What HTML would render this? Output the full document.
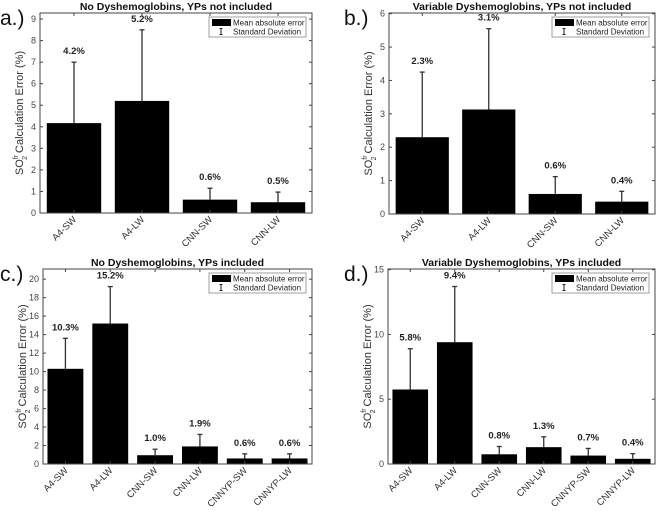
<!DOCTYPE html>
<html><head><meta charset="utf-8"><style>
body{margin:0;background:#fff;width:657px;height:506px;overflow:hidden}
svg{font-family:"Liberation Sans",sans-serif}
</style></head><body>
<svg id="fig" width="657" height="506"></svg>
<script>
const catsA=["A4-SW","A4-LW","CNN-SW","CNN-LW"];
const catsC=["A4-SW","A4-LW","CNN-SW","CNN-LW","CNNYP-SW","CNNYP-LW"];
const valsA=[4.17,5.2,0.62,0.5];
const errA=[7.0,8.5,1.15,0.97];
const labA=["4.2%","5.2%","0.6%","0.5%"];
const valsB=[2.3,3.13,0.6,0.37];
const errB=[4.25,5.55,1.12,0.68];
const labB=["2.3%","3.1%","0.6%","0.4%"];
const valsC=[10.3,15.2,0.95,1.9,0.6,0.6];
const errC=[13.6,19.2,1.6,3.2,1.1,1.1];
const labC=["10.3%","15.2%","1.0%","1.9%","0.6%","0.6%"];
const valsD=[5.75,9.4,0.75,1.3,0.65,0.4];
const errD=[8.9,13.7,1.35,2.1,1.2,0.8];
const labD=["5.8%","9.4%","0.8%","1.3%","0.7%","0.4%"];
const ticksA=[0,1,2,3,4,5,6,7,8,9];
const ticksB=[0,1,2,3,4,5,6];
const ticksC=[0,2,4,6,8,10,12,14,16,18,20];
const ticksD=[0,5,10,15];

const NS="http://www.w3.org/2000/svg";
const fig=document.getElementById('fig');
function mk(tag,attrs,parent,text){const e=document.createElementNS(NS,tag);for(const k in attrs)e.setAttribute(k,attrs[k]);if(text!==undefined)e.textContent=text;parent.appendChild(e);return e;}

function panel(cfg){
  const g=mk('g',{},fig);
  
  
  const L=cfg.x0,R=cfg.x1,T=cfg.y0,B=cfg.y1,n=cfg.cats.length;
  const xs=i=>L+(i+0.5)*(R-L)/n;
  const ys=v=>B-v/cfg.ymax*(B-T);
  const bw=0.8*(R-L)/n;
  cfg.vals.forEach((v,i)=>{
    const r=mk('rect',{x:xs(i)-bw/2,y:ys(v),width:bw,height:B-ys(v),fill:'#000'},g);
    
    
    const eb=mk('g',{stroke:'#333','stroke-width':1.3},g);
    
    
    mk('line',{x1:xs(i),x2:xs(i),y1:ys(v),y2:ys(cfg.errs[i])},eb);
    mk('line',{x1:xs(i)-2.5,x2:xs(i)+2.5,y1:ys(cfg.errs[i]),y2:ys(cfg.errs[i])},eb);
    const t=mk('text',{x:xs(i),y:ys(cfg.errs[i])-8,'text-anchor':'middle','font-size':9.5,'font-weight':'bold',fill:'#222'},g,cfg.labs[i]);
    
    
    const xl=mk('text',{transform:`translate(${xs(i)+3},${B+7}) rotate(-45)`,'text-anchor':'end','font-size':9.5,fill:'#333'},g,cfg.cats[i]);
    
    
    mk('line',{x1:xs(i),x2:xs(i),y1:B,y2:B-3,stroke:'#444'},g);
    mk('line',{x1:xs(i),x2:xs(i),y1:T,y2:T+3,stroke:'#444'},g);
  });
  const box=mk('rect',{x:L,y:T,width:R-L,height:B-T,fill:'none',stroke:'#444','stroke-width':1},g);
  
  
  cfg.ticks.forEach(t=>{
    mk('line',{x1:L,x2:L+3,y1:ys(t),y2:ys(t),stroke:'#444'},g);
    mk('line',{x1:R,x2:R-3,y1:ys(t),y2:ys(t),stroke:'#444'},g);
    const tl=mk('text',{x:L-4,y:ys(t)+3,'text-anchor':'end','font-size':9,fill:'#444'},g,String(t));
    
    
  });
  const ti=mk('text',{x:(L+R)/2,y:T-3,'text-anchor':'middle','font-size':10.5,'font-weight':'bold',fill:'#111'},g,cfg.title);
  
  
  const pl=mk('text',{x:cfg.px,y:T+12,'font-size':21,fill:'#111'},g,cfg.id+'.)');
  
  
  const yl=mk('text',{transform:`translate(${L-17},${(T+B)/2}) rotate(-90)`,'text-anchor':'middle','font-size':11,fill:'#333'},g);
  
  
  yl.innerHTML='SO<tspan font-size="7" dy="-5">fr</tspan><tspan font-size="7" dx="-5" dy="9">2</tspan><tspan dy="-4"> Calculation Error (%)</tspan>';
  const lg=mk('g',{},g);
  
  
  const lx=R-103,ly=T+4;
  mk('rect',{x:lx,y:ly,width:97,height:20,fill:'#fff',stroke:'#888','stroke-width':0.8},lg);
  mk('rect',{x:lx+3,y:ly+2,width:19,height:7,fill:'#000'},lg);
  mk('text',{x:lx+24,y:ly+8.5,'font-size':8,fill:'#222'},lg,'Mean absolute error');
  mk('line',{x1:lx+12,x2:lx+12,y1:ly+11.5,y2:ly+17.5,stroke:'#222'},lg);
  mk('line',{x1:lx+10.5,x2:lx+13.5,y1:ly+11.5,y2:ly+11.5,stroke:'#222'},lg);
  mk('line',{x1:lx+10.5,x2:lx+13.5,y1:ly+17.5,y2:ly+17.5,stroke:'#222'},lg);
  mk('text',{x:lx+24,y:ly+17.5,'font-size':8,fill:'#222'},lg,'Standard Deviation');
}
panel({id:'a',x0:40,x1:312,y0:13,y1:213,ymax:9.28,ticks:ticksA,cats:catsA,vals:valsA,errs:errA,labs:labA,title:'No Dyshemoglobins, YPs not included',px:0});
panel({id:'b',x0:389,x1:655,y0:13,y1:214,ymax:6.02,ticks:ticksB,cats:catsA,vals:valsB,errs:errB,labs:labB,title:'Variable Dyshemoglobins, YPs not included',px:344});
panel({id:'c',x0:43,x1:312,y0:269,y1:464,ymax:21.1,ticks:ticksC,cats:catsC,vals:valsC,errs:errC,labs:labC,title:'No Dyshemoglobins, YPs included',px:0});
panel({id:'d',x0:388,x1:655,y0:269,y1:464,ymax:15.05,ticks:ticksD,cats:catsC,vals:valsD,errs:errD,labs:labD,title:'Variable Dyshemoglobins, YPs included',px:344});
</script>
</body></html>
